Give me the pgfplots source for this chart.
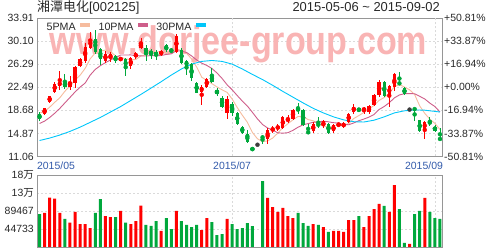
\documentclass[border=0pt]{standalone}
\usepackage{pgfplots}
\pgfplotsset{compat=1.18}
\usepackage{pgfplotstable}
\usepackage{fontspec}
\setmainfont{Liberation Sans}
\newfontfamily\cjk{Noto Sans CJK SC}
\definecolor{upred}{RGB}{255,0,0}
\definecolor{dngreen}{RGB}{0,168,60}
\definecolor{flatc}{RGB}{60,60,60}
\definecolor{maf}{RGB}{246,188,158}
\definecolor{mat}{RGB}{206,94,138}
\definecolor{mah}{RGB}{0,198,250}
\definecolor{wm}{RGB}{249,180,180}
\definecolor{lbl}{RGB}{40,40,40}
\definecolor{datec}{RGB}{50,90,170}
\definecolor{framec}{RGB}{150,150,150}
\definecolor{gridc}{RGB}{218,218,218}

\pgfplotstableread{
x c v vc mf mt
1 17.25 82000 0 18.2 16.5
2 19.0 85000 1 18.5 16.9
3 21.0 122600 1 19.2 17.5
4 23.1 120000 1 20.0 18.2
5 23.4 85000 1 20.75 19.0
6 22.6 69600 0 21.82 19.9
7 23.4 60500 1 22.7 20.8
8 25.8 87000 1 23.66 21.7
9 27.1 57000 1 24.46 22.5
10 29.1 57000 1 25.6 23.18
11 30.5 47000 1 27.18 24.5
12 28.3 85000 0 28.16 25.43
13 27.2 119000 0 28.44 26.05
14 28.0 77000 1 28.62 26.54
15 27.9 74500 1 28.38 26.99
16 26.8 74500 0 27.64 27.41
17 27.3 89500 1 27.44 27.8
18 25.8 60500 0 27.16 27.8
19 27.3 57000 1 27.02 27.82
20 28.1 64600 1 27.06 27.72
21 29.8 102700 1 27.66 27.65
22 28.15 54700 0 27.83 27.64
23 27.9 52200 0 28.25 27.71
24 27.6 64600 0 28.31 27.67
25 28.4 39800 1 28.37 27.72
26 28.6 72000 0 28.13 27.9
27 28.3 44700 0 28.16 28.0
28 31.0 89500 1 28.78 28.52
29 26.5 64600 0 28.56 28.44
30 26.0 54700 0 28.08 28.23
31 24.0 49700 0 27.16 27.65
32 21.6 54700 0 25.82 26.99
33 22.6 42200 1 24.14 26.46
34 23.8 72000 1 23.6 26.08
35 23.4 62000 0 23.08 25.58
36 21.3 29800 0 22.54 24.85
37 19.25 32300 0 22.07 23.95
38 20.5 69600 1 21.65 22.9
39 18.25 57000 0 20.54 22.07
40 16.45 44700 0 19.15 21.12
41 14.95 47000 0 17.88 20.21
42 13.4 59600 0 16.71 19.39
43 12.1 52000 0 15.03 18.34
44 13.0 0 3 13.98 17.26
45 14.15 164000 0 13.52 16.34
46 15.5 122000 1 13.63 15.76
47 15.8 99400 1 14.11 15.41
48 16.1 87000 1 14.91 14.97
49 17.6 97000 1 15.83 14.91
50 17.3 77000 1 16.46 14.99
51 18.8 72000 1 17.12 15.38
52 18.5 84500 0 17.66 15.89
53 16.2 59600 0 17.68 16.3
54 14.9 52200 0 17.14 16.49
55 16.4 57000 1 16.96 16.71
56 16.2 54700 0 16.44 16.78
57 16.85 49700 1 16.11 16.89
58 15.0 37300 0 15.87 16.78
59 16.2 39800 1 16.13 16.64
60 16.5 39800 1 16.15 16.56
61 16.6 37300 1 16.23 16.34
62 18.1 67000 1 16.48 16.3
63 19.25 67000 1 17.33 16.6
64 18.6 77000 0 17.81 16.97
65 19.1 49700 1 18.33 17.24
66 19.35 77000 1 18.88 17.56
67 21.2 94400 1 19.5 17.99
68 23.3 106900 1 20.31 18.82
69 21.05 102000 0 20.8 19.31
70 22.7 87000 1 21.52 19.93
71 24.6 154000 1 22.57 20.73
72 22.95 94400 0 22.92 21.21
73 21.3 10000 0 22.52 21.42
74 18.8 7500 1 22.07 21.44
75 18.8 82000 0 21.29 21.41
76 15.2 89500 0 19.41 20.99
77 16.8 121800 1 18.18 20.55
78 16.5 87000 0 17.22 19.87
79 15.3 72000 0 16.52 19.3
80 13.8 69600 0 15.52 18.41
}\kdata

% rising days: x open high low close
\pgfplotstableread{
x o h l c
2 18.1 19.1 17.9 19.0
3 20.05 21.1 19.9 21.0
4 21.7 23.3 21.5 23.1
5 22.7 25.2 22.1 23.4
7 22.5 24.3 22.0 23.4
8 23.2 26.0 22.3 25.8
9 26.0 27.3 25.8 27.1
10 26.8 29.8 26.5 29.1
11 29.0 31.6 28.8 30.5
14 26.8 28.4 26.5 28.0
15 27.3 28.3 26.6 27.9
17 26.95 27.5 26.8 27.3
19 26.0 27.5 25.5 27.3
20 27.4 28.3 27.2 28.1
21 29.0 30.65 28.8 29.8
25 27.9 28.7 27.6 28.4
28 28.3 31.3 28.1 31.0
33 21.7 22.9 19.6 22.6
34 22.6 24.0 22.4 23.8
38 18.3 21.0 17.3 20.5
46 14.0 15.7 13.2 15.5
47 15.3 16.1 14.9 15.8
48 15.6 16.4 15.3 16.1
49 15.8 17.7 15.6 17.6
50 16.9 17.85 16.6 17.3
51 17.3 18.9 17.1 18.8
55 15.3 16.7 14.9 16.4
57 16.2 17.0 15.75 16.85
59 15.25 16.5 14.95 16.2
60 16.2 16.65 15.9 16.5
61 15.9 16.75 15.75 16.6
62 16.8 18.3 16.6 18.1
63 18.4 19.65 18.15 19.25
65 18.6 19.25 18.15 19.1
66 18.4 19.5 18.15 19.35
67 19.5 21.4 19.35 21.2
68 21.2 23.6 20.9 23.3
70 21.2 22.9 19.3 22.7
71 22.5 24.85 21.8 24.6
77 15.5 16.9 14.0 16.8
}\upT

% falling days
\pgfplotstableread{
x o h l c
1 18.0 18.35 16.95 17.25
6 23.3 24.65 22.15 22.6
12 30.5 31.9 28.0 28.3
13 28.8 29.0 26.2 27.2
16 27.6 27.8 26.5 26.8
18 27.1 27.3 24.3 25.8
22 29.0 29.4 26.8 28.15
23 28.5 28.8 27.2 27.9
24 28.3 28.7 27.0 27.6
26 29.4 29.65 28.3 28.6
27 28.7 29.0 28.15 28.3
29 28.7 29.0 26.3 26.5
30 26.8 27.0 24.5 26.0
31 26.3 26.5 23.5 24.0
32 23.2 23.3 21.5 21.6
35 24.4 25.6 23.2 23.4
36 22.1 22.3 21.1 21.3
37 20.75 21.0 19.0 19.25
39 19.8 20.0 17.7 18.25
40 18.25 18.4 16.3 16.45
41 15.9 16.1 14.8 14.95
42 14.8 15.5 13.3 13.4
43 12.5 12.55 12.0 12.1
45 14.3 14.65 13.05 14.15
52 19.1 19.95 18.1 18.5
53 18.7 18.85 16.1 16.2
54 15.2 16.5 14.75 14.9
56 16.4 17.5 15.8 16.2
58 16.5 16.6 14.8 15.0
64 19.0 19.1 18.4 18.6
69 23.3 23.45 20.9 21.05
72 23.3 24.95 22.9 22.95
73 22.4 22.5 21.2 21.3
75 18.95 19.1 16.9 18.8
76 17.0 17.1 15.1 15.2
78 16.8 17.5 16.1 16.5
79 16.0 16.2 15.1 15.3
80 14.1 15.7 13.75 13.8
}\dnT

% one-price days
\pgfplotstableread{
x c
44 13.0
74 18.8
}\flT

\pgfplotstableread{
x m
1 13.7
3 14.1
5 14.6
7 15.2
9 15.9
11 16.7
13 17.5
15 18.4
17 19.3
19 20.3
21 21.3
23 22.35
25 23.4
27 24.5
29 25.5
31 26.3
33 26.75
35 26.9
37 26.75
39 26.3
41 25.5
43 24.6
45 23.75
47 22.8
49 21.8
51 20.85
53 19.9
55 19.0
57 18.25
59 17.6
61 17.1
63 16.8
65 16.75
67 17.05
69 17.6
71 18.25
73 18.6
75 18.75
77 18.7
79 18.5
80 18.4
}\mathirty

\pgfplotsset{
  candlebar/.style 2 args={forget plot, only marks, mark=none, color=#1,
    error bars/.cd, y dir=both, y explicit, error mark=none,
    error mark options={draw=none, fill=none},
    error bar style={color=#1, line width=#2}},
}

\begin{document}
\begin{tikzpicture}
\useasboundingbox (0,0) rectangle (488bp,250bp);
\node[anchor=base west, inner sep=0pt, text=lbl, font=\fontsize{13}{15}\selectfont] at (37bp,238bp) {{\cjk 湘潭电化}[002125]};
\node[anchor=base east, inner sep=0pt, text=lbl, font=\fontsize{13}{15}\selectfont] at (440bp,238bp) {2015-05-06 \textasciitilde{} 2015-09-02};

% price panel
\begin{axis}[
  at={(37bp,93.5bp)}, anchor=south west,
  scale only axis, width=405.5bp, height=138.5bp,
  xmin=0.5, xmax=80.5, ymin=11.06, ymax=33.91,
  axis line style={framec, line width=0.8bp},
  major tick length=0pt,
  ytick={11.06,14.87,18.68,22.49,26.29,30.10,33.91},
  yticklabels={11.06,14.87,18.68,22.49,26.29,30.10,33.91},
  ymajorgrids,
  grid style={gridc, dash pattern=on 2bp off 2bp, line width=0.6bp},
  yticklabel style={font=\fontsize{10.5}{12}\selectfont, text=lbl, anchor=east, inner sep=0pt, xshift=-3bp},
  xtick={4.25,39,76.85},
  xticklabels={2015/05,2015/07,2015/09},
  xticklabel style={font=\fontsize{10.5}{12}\selectfont, text=datec, anchor=north, inner sep=0pt, yshift=-5bp},
  extra x ticks={39,79}, extra x tick labels={}, extra x tick style={grid=major},
  legend plot pos=right,
  legend image code/.code={\fill[#1] (0bp,0.6bp) rectangle (9bp,4.2bp);},
  legend style={at={(rel axis cs:0.0197,0.978)}, anchor=north west, draw=none, fill=none,
    font=\fontsize{10.7}{12}\selectfont, text=lbl, legend columns=-1,
    inner xsep=0pt, inner ysep=0pt, nodes={inner sep=1.5bp},
    /tikz/every odd column/.append style={column sep=3bp},
    /tikz/every even column/.append style={column sep=7bp}},
]
\node[anchor=base west, inner sep=0pt, text=wm, font=\fontsize{40}{42}\selectfont\bfseries] at (rel axis cs:0.031,0.740) {\scalebox{0.855}[1]{www.dorjee-group.com}};

\addplot[maf, line width=0.9bp, mark=none] table[x=x, y=mf]{\kdata};
\addlegendentry{5PMA}
\addplot[mat, line width=0.9bp, mark=none] table[x=x, y=mt]{\kdata};
\addlegendentry{10PMA}
\addplot[mah, line width=0.9bp, mark=none] table[x=x, y=m]{\mathirty};
\addlegendentry{30PMA}

% rising candles: wicks, then bodies
\addplot[candlebar={upred}{0.8bp}]
  table[x=x, y expr={(\thisrow{h}+\thisrow{l})/2}, y error expr={(\thisrow{h}-\thisrow{l})/2}]{\upT};
\addplot[candlebar={upred}{3.3bp}]
  table[x=x, y expr={(\thisrow{o}+\thisrow{c})/2}, y error expr={max(abs(\thisrow{c}-\thisrow{o})/2,0.05)}]{\upT};
% falling candles
\addplot[candlebar={dngreen}{0.8bp}]
  table[x=x, y expr={(\thisrow{h}+\thisrow{l})/2}, y error expr={(\thisrow{h}-\thisrow{l})/2}]{\dnT};
\addplot[candlebar={dngreen}{3.3bp}]
  table[x=x, y expr={(\thisrow{o}+\thisrow{c})/2}, y error expr={max(abs(\thisrow{c}-\thisrow{o})/2,0.05)}]{\dnT};
% one-price days
\addplot[candlebar={flatc}{3.6bp}]
  table[x=x, y=c, y error expr={0.06}]{\flT};
\end{axis}

% percentage labels on the right
\begin{axis}[
  at={(37bp,93.5bp)}, anchor=south west,
  scale only axis, width=405.5bp, height=138.5bp,
  xmin=0.5, xmax=80.5, ymin=11.06, ymax=33.91,
  axis y line*=right, axis x line=none,
  y axis line style={draw=none},
  major tick length=0pt,
  ytick={11.06,14.87,18.68,22.49,26.29,30.10,33.91},
  yticklabels={-50.81\%,-33.87\%,-16.94\%,+0.00\%,+16.94\%,+33.87\%,+50.81\%},
  yticklabel style={font=\fontsize{10.5}{12}\selectfont, text=lbl, anchor=west, inner sep=0pt, xshift=1.5bp},
]
\end{axis}

% volume panel
\begin{axis}[
  at={(37bp,3bp)}, anchor=south west,
  scale only axis, width=405.5bp, height=72bp,
  xmin=0.5, xmax=80.5, ymin=0, ymax=178933,
  axis line style={framec, line width=0.8bp},
  major tick length=0pt,
  scaled y ticks=false,
  ytick={44733,89467,134200,178933},
  yticklabels={44733,89467,{13{\cjk 万}},{18{\cjk 万}}},
  ymajorgrids, xmajorgrids,
  xtick={39,79}, xticklabels={},
  grid style={gridc, dash pattern=on 2bp off 2bp, line width=0.6bp},
  yticklabel style={font=\fontsize{10.5}{12}\selectfont, text=lbl, anchor=east, inner sep=0pt, xshift=-3bp},
]
\addplot[ybar, bar width=3bp, bar shift=0pt, fill=upred, draw=none,
  restrict expr to domain={\thisrow{vc}}{0.5:1.5}] table[x=x, y=v]{\kdata};
\addplot[ybar, bar width=3bp, bar shift=0pt, fill=dngreen, draw=none,
  restrict expr to domain={\thisrow{vc}}{-0.5:0.5}] table[x=x, y=v]{\kdata};
\end{axis}
\end{tikzpicture}
\end{document}
